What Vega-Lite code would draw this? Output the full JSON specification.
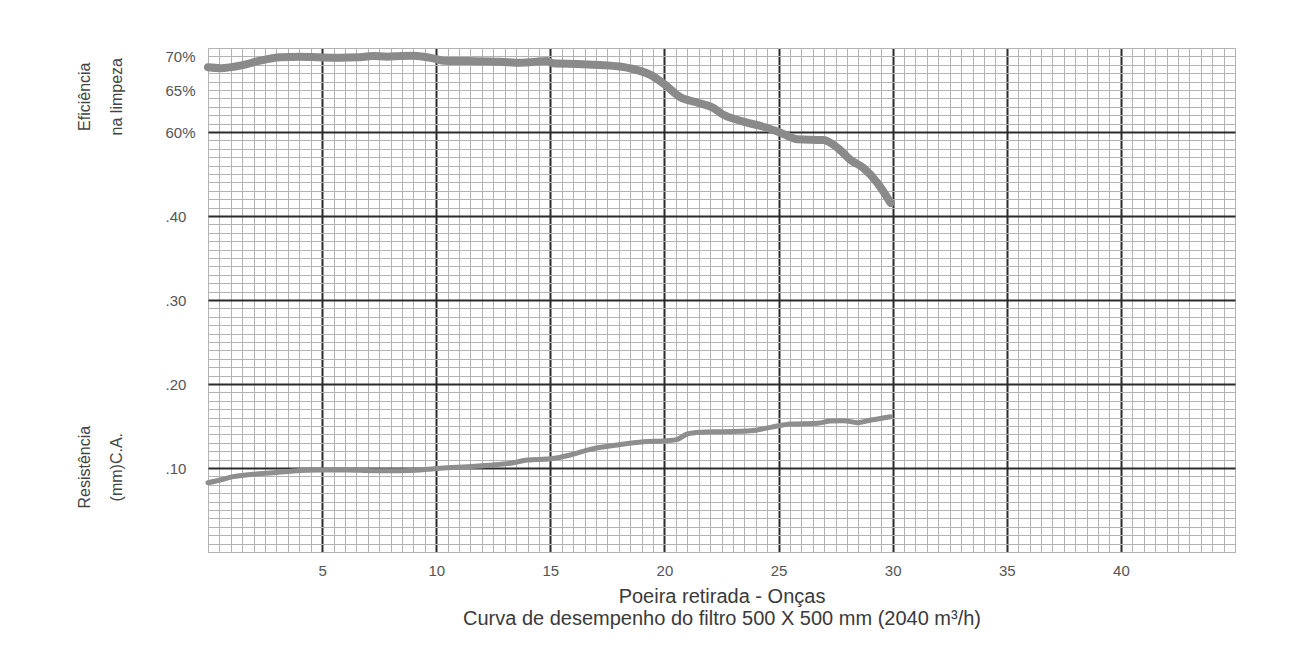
{
  "$schema": "https://vega.github.io/schema/vega-lite/v6.json",
  "width": 1027,
  "height": 504,
  "autosize": {"type": "none"},
  "padding": {"left": 208, "top": 48, "right": 56, "bottom": 98},
  "background": "white",
  "config": {
    "view": {"stroke": "#b0b0b0", "strokeWidth": 1},
    "font": "Liberation Sans"
  },
  "datasets": {
    "curves": [
      {"serie": "eficiencia", "x": 0.0, "y": 0.577},
      {"serie": "eficiencia", "x": 0.53, "y": 0.576},
      {"serie": "eficiencia", "x": 1.54, "y": 0.5798},
      {"serie": "eficiencia", "x": 2.28, "y": 0.5849},
      {"serie": "eficiencia", "x": 3.16, "y": 0.5889},
      {"serie": "eficiencia", "x": 4.04, "y": 0.5896},
      {"serie": "eficiencia", "x": 4.91, "y": 0.5889},
      {"serie": "eficiencia", "x": 5.79, "y": 0.5885},
      {"serie": "eficiencia", "x": 6.54, "y": 0.5889},
      {"serie": "eficiencia", "x": 7.24, "y": 0.5905},
      {"serie": "eficiencia", "x": 7.85, "y": 0.5896},
      {"serie": "eficiencia", "x": 8.42, "y": 0.5905},
      {"serie": "eficiencia", "x": 8.99, "y": 0.5908},
      {"serie": "eficiencia", "x": 9.87, "y": 0.5877},
      {"serie": "eficiencia", "x": 10.31, "y": 0.5849},
      {"serie": "eficiencia", "x": 11.36, "y": 0.5845},
      {"serie": "eficiencia", "x": 12.81, "y": 0.5837},
      {"serie": "eficiencia", "x": 13.68, "y": 0.5825},
      {"serie": "eficiencia", "x": 14.87, "y": 0.5845},
      {"serie": "eficiencia", "x": 15.13, "y": 0.5818},
      {"serie": "eficiencia", "x": 16.18, "y": 0.581},
      {"serie": "eficiencia", "x": 17.19, "y": 0.5798},
      {"serie": "eficiencia", "x": 18.5, "y": 0.5758},
      {"serie": "eficiencia", "x": 19.39, "y": 0.568},
      {"serie": "eficiencia", "x": 20.04, "y": 0.556},
      {"serie": "eficiencia", "x": 20.7, "y": 0.5413},
      {"serie": "eficiencia", "x": 21.45, "y": 0.5349},
      {"serie": "eficiencia", "x": 22.15, "y": 0.5286},
      {"serie": "eficiencia", "x": 22.46, "y": 0.5226},
      {"serie": "eficiencia", "x": 23.46, "y": 0.5123},
      {"serie": "eficiencia", "x": 24.34, "y": 0.5063},
      {"serie": "eficiencia", "x": 25.09, "y": 0.4992},
      {"serie": "eficiencia", "x": 25.83, "y": 0.4913},
      {"serie": "eficiencia", "x": 26.97, "y": 0.4905},
      {"serie": "eficiencia", "x": 27.59, "y": 0.481},
      {"serie": "eficiencia", "x": 28.16, "y": 0.4667},
      {"serie": "eficiencia", "x": 28.73, "y": 0.457},
      {"serie": "eficiencia", "x": 29.34, "y": 0.439},
      {"serie": "eficiencia", "x": 29.6, "y": 0.4289},
      {"serie": "eficiencia", "x": 29.91, "y": 0.4155},
      {"serie": "resistencia", "x": 0.0, "y": 0.0825},
      {"serie": "resistencia", "x": 0.53, "y": 0.0857},
      {"serie": "resistencia", "x": 1.1, "y": 0.0897},
      {"serie": "resistencia", "x": 1.97, "y": 0.0925},
      {"serie": "resistencia", "x": 2.85, "y": 0.0944},
      {"serie": "resistencia", "x": 3.73, "y": 0.0964},
      {"serie": "resistencia", "x": 4.91, "y": 0.0976},
      {"serie": "resistencia", "x": 6.1, "y": 0.0976},
      {"serie": "resistencia", "x": 7.24, "y": 0.0968},
      {"serie": "resistencia", "x": 8.42, "y": 0.0968},
      {"serie": "resistencia", "x": 9.3, "y": 0.0976},
      {"serie": "resistencia", "x": 10.18, "y": 0.0996},
      {"serie": "resistencia", "x": 11.36, "y": 0.1016},
      {"serie": "resistencia", "x": 12.5, "y": 0.1036},
      {"serie": "resistencia", "x": 13.38, "y": 0.1063},
      {"serie": "resistencia", "x": 13.99, "y": 0.1095},
      {"serie": "resistencia", "x": 15.0, "y": 0.111},
      {"serie": "resistencia", "x": 15.88, "y": 0.1155},
      {"serie": "resistencia", "x": 16.75, "y": 0.1222},
      {"serie": "resistencia", "x": 17.94, "y": 0.1274},
      {"serie": "resistencia", "x": 19.08, "y": 0.1313},
      {"serie": "resistencia", "x": 20.13, "y": 0.1325},
      {"serie": "resistencia", "x": 20.57, "y": 0.1341},
      {"serie": "resistencia", "x": 21.0, "y": 0.1405},
      {"serie": "resistencia", "x": 21.58, "y": 0.1425},
      {"serie": "resistencia", "x": 22.59, "y": 0.1433},
      {"serie": "resistencia", "x": 23.77, "y": 0.1444},
      {"serie": "resistencia", "x": 24.65, "y": 0.1484},
      {"serie": "resistencia", "x": 25.53, "y": 0.1524},
      {"serie": "resistencia", "x": 26.71, "y": 0.1532},
      {"serie": "resistencia", "x": 27.28, "y": 0.156},
      {"serie": "resistencia", "x": 27.85, "y": 0.1563},
      {"serie": "resistencia", "x": 28.46, "y": 0.154},
      {"serie": "resistencia", "x": 29.04, "y": 0.1571},
      {"serie": "resistencia", "x": 29.91, "y": 0.1611}
    ],
    "titles": [
      {"x": -5.4, "y": 0.542, "label": ["Eficiência", "na limpeza"]},
      {"x": -5.4, "y": 0.101, "label": ["Resistência", "(mm)C.A."]}
    ]
  },
  "layer": [
    {
      "data": {"name": "curves"},
      "transform": [{"filter": "datum.serie === 'eficiencia'"}],
      "mark": {"type": "line", "color": "#8a8a8a", "strokeWidth": 8, "strokeCap": "round", "strokeJoin": "round", "interpolate": "monotone"},
      "encoding": {
        "x": {
          "field": "x", "type": "quantitative",
          "scale": {"domain": [0, 45], "nice": false, "zero": false},
          "axis": {
            "tickCount": 90,
            "grid": true,
            "gridColor": {"condition": {"test": "datum.value % 5 === 0 && datum.value > 0 && datum.value < 45", "value": "#2b2b2b"}, "value": "#b3b3b3"},
            "gridWidth": {"condition": {"test": "datum.value % 5 === 0 && datum.value > 0 && datum.value < 45", "value": 2}, "value": 1},
            "ticks": false,
            "domain": false,
            "labelExpr": "datum.value % 5 === 0 && datum.value > 0 && datum.value < 45 ? format(datum.value, 'd') : ''",
            "labelOverlap": false,
            "labelPadding": 11,
            "labelFontSize": 15,
            "labelColor": "#555555",
            "title": ["Poeira retirada - Onças", "Curva de desempenho do filtro 500 X 500 mm (2040 m³/h)"],
            "titleFontSize": 20,
            "titleFontWeight": "normal",
            "titleColor": "#3a3a3a",
            "titleLineHeight": 22,
            "titlePadding": 8
          }
        },
        "y": {
          "field": "y", "type": "quantitative",
          "scale": {"domain": [0, 0.6], "nice": false, "zero": false},
          "axis": {
            "tickCount": 60,
            "grid": true,
            "gridColor": {"condition": {"test": "abs(datum.value*10 - round(datum.value*10)) < 1e-6 && datum.value > 0.05 && datum.value < 0.55", "value": "#2b2b2b"}, "value": "#b3b3b3"},
            "gridWidth": {"condition": {"test": "abs(datum.value*10 - round(datum.value*10)) < 1e-6 && datum.value > 0.05 && datum.value < 0.55", "value": 2}, "value": 1},
            "ticks": false,
            "domain": false,
            "labelExpr": "abs(datum.value-0.59)<1e-6 ? '70%' : abs(datum.value-0.55)<1e-6 ? '65%' : abs(datum.value-0.5)<1e-6 ? '60%' : (abs(datum.value*10 - round(datum.value*10)) < 1e-6 && datum.value > 0.05 && datum.value < 0.45) ? '.' + format(round(datum.value*100), 'd') : ''",
            "labelOverlap": false,
            "labelAlign": "left",
            "labelPadding": 43,
            "labelFontSize": 15,
            "labelColor": "#555555",
            "title": null
          }
        }
      }
    },
    {
      "data": {"name": "curves"},
      "transform": [{"filter": "datum.serie === 'resistencia'"}],
      "mark": {"type": "line", "color": "#8e8e8e", "strokeWidth": 5, "strokeCap": "round", "strokeJoin": "round", "interpolate": "monotone"},
      "encoding": {
        "x": {"field": "x", "type": "quantitative"},
        "y": {"field": "y", "type": "quantitative"}
      }
    },
    {
      "data": {"name": "titles"},
      "mark": {"type": "text", "angle": 270, "align": "center", "baseline": "middle", "font": "Liberation Sans", "fontSize": 16, "lineHeight": 32, "color": "#444444"},
      "encoding": {
        "x": {"field": "x", "type": "quantitative"},
        "y": {"field": "y", "type": "quantitative"},
        "text": {"field": "label"}
      }
    }
  ]
}
